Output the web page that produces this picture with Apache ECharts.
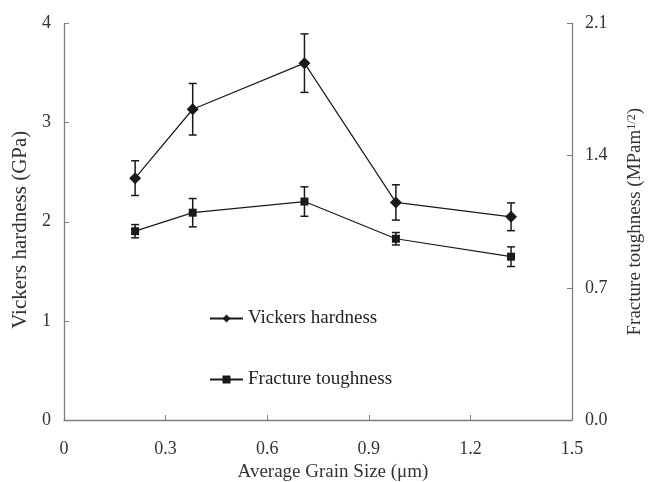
<!DOCTYPE html>
<html>
<head>
<meta charset="utf-8">
<script src="https://cdn.jsdelivr.net/npm/echarts@6/dist/echarts.min.js"></script>
<style>
  html, body { margin: 0; padding: 0; background: #fff; }
  #main { width: 648px; height: 482px; }
</style>
</head>
<body>
<div id="main"></div>
<script>
// grain size (um)
var grainSize = [0.21, 0.38, 0.71, 0.98, 1.32];
// Vickers hardness (GPa) and its error
var hardness = [2.44, 3.135, 3.60, 2.195, 2.05];
var hardnessErr = [0.175, 0.26, 0.295, 0.178, 0.14];
// fracture toughness (MPa m^1/2) and its error
var toughness = [1.0, 1.098, 1.157, 0.96, 0.865];
var toughnessErr = [0.035, 0.075, 0.078, 0.033, 0.052];

var xTicks = [0, 0.3, 0.6, 0.9, 1.2, 1.5];
var leftTicks = [0, 1, 2, 3, 4];
var rightTicks = [0, 0.7, 1.4, 2.1];

var FONT = 'Liberation Serif';
var INK = '#1a1a1a';
var AXIS = '#808080';

function pairs(xs, ys) {
  return xs.map(function (x, i) { return [x, ys[i]]; });
}
function bars(xs, ys, es) {
  return xs.map(function (x, i) { return [x, ys[i] - es[i], ys[i] + es[i]]; });
}

// vertical error bar with short caps
function renderErr(params, api) {
  var lo = api.coord([api.value(0), api.value(1)]);
  var hi = api.coord([api.value(0), api.value(2)]);
  var w = 4;
  var st = { stroke: INK, lineWidth: 1.5 };
  return {
    type: 'group',
    children: [
      { type: 'line', shape: { x1: lo[0], y1: lo[1], x2: hi[0], y2: hi[1] }, style: st },
      { type: 'line', shape: { x1: lo[0] - w, y1: lo[1], x2: lo[0] + w, y2: lo[1] }, style: st },
      { type: 'line', shape: { x1: hi[0] - w, y1: hi[1], x2: hi[0] + w, y2: hi[1] }, style: st }
    ]
  };
}

function valueAxis(ticks, pos, fmt) {
  return {
    type: 'value',
    position: pos,
    min: ticks[0],
    max: ticks[ticks.length - 1],
    interval: ticks[1] - ticks[0],
    axisLine: { show: true, lineStyle: { color: AXIS, width: 1.3 } },
    axisTick: { show: true, inside: true, length: 5, lineStyle: { color: AXIS } },
    splitLine: { show: false },
    axisLabel: { color: '#333', fontFamily: FONT, fontSize: 18, margin: 13, formatter: fmt },
    nameLocation: 'middle',
    nameRotate: 90,
    nameTextStyle: { color: '#333', fontFamily: FONT, fontSize: 19 }
  };
}

var chart = echarts.init(document.getElementById('main'));

var yLeft = valueAxis(leftTicks, 'left', function (v) { return String(v); });
yLeft.name = 'Vickers hardness (GPa)';
yLeft.nameGap = 33;
yLeft.nameTextStyle.fontSize = 21;
yLeft.nameTextStyle.padding = [0, 16, 0, 0];

var yRight = valueAxis(rightTicks, 'right', function (v) { return v.toFixed(1); });
yRight.name = 'Fracture toughness (MPam{sup|1/2})';
yRight.nameGap = 54;
yRight.nameTextStyle.rich = {
  sup: { fontFamily: FONT, fontSize: 12, verticalAlign: 'top', color: '#333', padding: [0, 0, 7, 0] }
};

chart.setOption({
  animation: false,
  backgroundColor: '#fff',
  grid: { left: 64, right: 76, top: 23.5, bottom: 62, containLabel: false, outerBoundsMode: 'none' },
  xAxis: {
    type: 'value',
    min: xTicks[0],
    max: xTicks[xTicks.length - 1],
    interval: xTicks[1] - xTicks[0],
    axisLine: { show: true, onZero: false, lineStyle: { color: AXIS, width: 1.3 } },
    axisTick: { show: true, inside: true, length: 5, lineStyle: { color: AXIS } },
    splitLine: { show: false },
    axisLabel: { color: '#333', fontFamily: FONT, fontSize: 18, margin: 20 },
    name: 'Average Grain Size (\u03bcm)',
    nameLocation: 'middle',
    nameGap: 32,
    nameTextStyle: { color: '#333', fontFamily: FONT, fontSize: 19, padding: [0, 0, 0, 30] }
  },
  yAxis: [yLeft, yRight],
  legend: {
    data: ['Vickers hardness', 'Fracture toughness'],
    orient: 'vertical',
    left: 204,
    top: 304,
    itemWidth: 33,
    itemHeight: 10,
    itemGap: 42,
    textStyle: { color: '#222', fontFamily: FONT, fontSize: 19 }
  },
  series: [
    {
      name: 'Vickers hardness',
      type: 'line',
      yAxisIndex: 0,
      data: pairs(grainSize, hardness),
      symbol: 'diamond',
      symbolSize: 12,
      itemStyle: { color: INK },
      lineStyle: { color: INK, width: 1.2 },
      z: 3
    },
    {
      name: 'Fracture toughness',
      type: 'line',
      yAxisIndex: 1,
      data: pairs(grainSize, toughness),
      symbol: 'rect',
      symbolSize: 8,
      itemStyle: { color: INK },
      lineStyle: { color: INK, width: 1.2 },
      z: 3
    },
    {
      type: 'custom',
      yAxisIndex: 0,
      renderItem: renderErr,
      data: bars(grainSize, hardness, hardnessErr),
      z: 2
    },
    {
      type: 'custom',
      yAxisIndex: 1,
      renderItem: renderErr,
      data: bars(grainSize, toughness, toughnessErr),
      z: 2
    }
  ]
});
</script>
</body>
</html>
